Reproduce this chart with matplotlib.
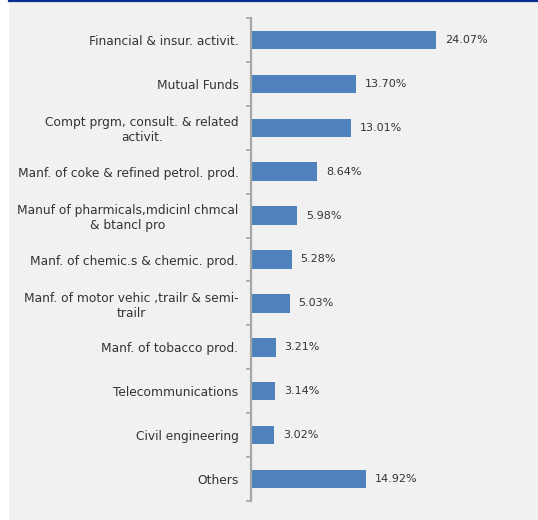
import numpy as np
import matplotlib.pyplot as plt
from matplotlib.patches import Rectangle
from matplotlib.lines import Line2D

sectors = [
    "Financial & insur. activit.",
    "Mutual Funds",
    "Compt prgm, consult. & related\nactivit.",
    "Manf. of coke & refined petrol. prod.",
    "Manuf of pharmicals,mdicinl chmcal\n& btancl pro",
    "Manf. of chemic.s & chemic. prod.",
    "Manf. of motor vehic ,trailr & semi-\ntrailr",
    "Manf. of tobacco prod.",
    "Telecommunications",
    "Civil engineering",
    "Others",
]
shares = [24.07, 13.70, 13.01, 8.64, 5.98, 5.28, 5.03, 3.21, 3.14, 3.02, 14.92]

BAR = "#4F81BD"
PANEL = "#F1F1F1"
TXT = "#333333"

plt.rcParams['font.family'] = ['DejaVu Sans']

W, H = 538, 520
fig = plt.figure(figsize=(W / 100, H / 100), dpi=100)
fig.patch.set_facecolor("white")

# grey panel with a thin dark-blue rule on top
fig.patches.append(Rectangle((9 / W, 0), 1 - 9 / W, 1, transform=fig.transFigure,
                             facecolor=PANEL, edgecolor="none", zorder=-10))
fig.lines.append(Line2D([9 / W, 1], [1 - 1 / H, 1 - 1 / H], transform=fig.transFigure,
                        color="#0B2D8F", lw=1.6, zorder=-5))

x0, x1 = 251, 525
y_top, y_bot = 18, 501
ax = fig.add_axes([x0 / W, 1 - y_bot / H, (x1 - x0) / W, (y_bot - y_top) / H])
ax.set_facecolor("none")

n = len(sectors)
pos = np.arange(n)
ax.barh(pos, shares, height=0.42, color=BAR, zorder=2)
ax.set_xlim(0, (x1 - x0) / 7.69)
ax.set_ylim(n - 0.5, -0.5)

for p, v in zip(pos, shares):
    ax.text(v + 1.15, p, f"{v:.2f}%", va="center", ha="left", fontsize=8, color=TXT)

for s in ["top", "right", "bottom"]:
    ax.spines[s].set_visible(False)
ax.spines["left"].set_color("#A6A6A6")
ax.spines["left"].set_linewidth(1.6)

ax.set_xticks([])
ax.set_yticks(pos)
ax.set_yticklabels(sectors, fontsize=8.8, color=TXT, multialignment="center",
                   linespacing=1.2)
ax.tick_params(axis="y", which="major", length=0, pad=9)
ax.set_yticks(np.arange(n + 1) - 0.5, minor=True)
ax.tick_params(axis="y", which="minor", length=3.5, width=1.2, color="#A6A6A6")

fig.savefig("out.png", dpi=100, facecolor=fig.get_facecolor())
